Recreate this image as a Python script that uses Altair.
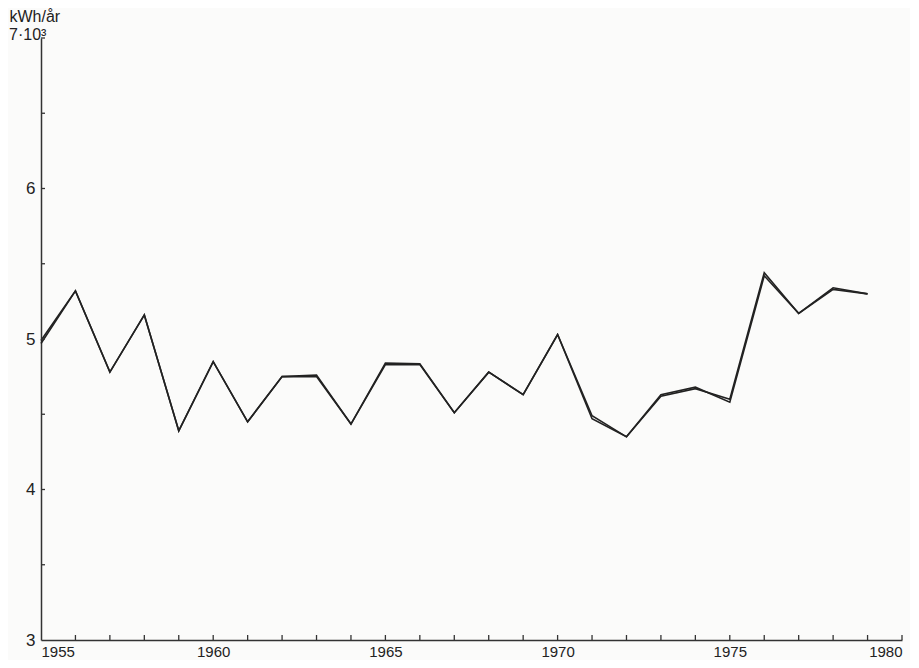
import altair as alt
import pandas as pd

years = list(range(1955, 1980))
series_a = [4.99, 5.32, 4.78, 5.16, 4.39, 4.85, 4.45, 4.75, 4.76, 4.435, 4.83, 4.83, 4.51, 4.78, 4.63,
            5.03, 4.49, 4.35, 4.62, 4.67, 4.60, 5.44, 5.17, 5.34, 5.30]
series_b = [4.97, 5.32, 4.78, 5.16, 4.39, 4.85, 4.45, 4.75, 4.75, 4.435, 4.84, 4.835, 4.51, 4.78, 4.63,
            5.03, 4.47, 4.35, 4.63, 4.68, 4.58, 5.42, 5.17, 5.33, 5.30]
x_tick_years = list(range(1956, 1981))
y_minor = [3.5, 4.0, 4.5, 5.0, 5.5, 6.0, 6.5, 7.0]
x_label_years = [1955, 1960, 1965, 1970, 1975, 1980]
y_label_values = [3, 4, 5, 6]
top_label = ["7·10³"]

df = pd.DataFrame({
    "year": years * 2,
    "value": series_a + series_b,
    "series": ["A"] * len(years) + ["B"] * len(years),
})
xt = pd.DataFrame({"year": x_tick_years})
yt = pd.DataFrame({"v": y_minor})
tl = pd.DataFrame({"v": [7.0], "label": top_label})

FONT = "Liberation Sans"
xscale = alt.Scale(domain=[1955, 1980], nice=False, zero=False)
yscale = alt.Scale(domain=[3, 7], nice=False, zero=False)

lines = alt.Chart(df).mark_line(color="#222222", strokeWidth=1.6).encode(
    x=alt.X("year:Q", scale=xscale,
            axis=alt.Axis(values=x_label_years, format="d", title=None, ticks=False,
                          grid=False, domainColor="#333333", domainWidth=1.5,
                          labelFont=FONT, labelFontSize=15, labelColor="#222222",
                          labelPadding=4)),
    y=alt.Y("value:Q", scale=yscale,
            axis=alt.Axis(values=y_label_values, title="kWh/år", ticks=False, grid=False,
                          format="d",
                          domainColor="#333333", domainWidth=1.5,
                          labelFont=FONT, labelFontSize=17, labelColor="#222222",
                          labelPadding=6,
                          titleAngle=0, titleAlign="left", titleBaseline="bottom",
                          titleX=-32, titleY=-14, titleFont=FONT, titleFontSize=16,
                          titleFontWeight="normal", titleColor="#222222")),
    detail="series:N",
)

toptext = alt.Chart(tl).mark_text(font=FONT, fontSize=16, color="#222222",
                                  align="left", baseline="middle", dy=-3).encode(
    y=alt.Y("v:Q", scale=yscale),
    x=alt.value(-32),
    text="label:N",
)

xticks = alt.Chart(xt).mark_rule(color="#333333", strokeWidth=1.3).encode(
    x=alt.X("year:Q", scale=xscale),
    y=alt.value(602),
    y2=alt.value(597),
)

yticks = alt.Chart(yt).mark_rule(color="#333333", strokeWidth=1.3).encode(
    y=alt.Y("v:Q", scale=yscale),
    x=alt.value(0),
    x2=alt.value(4),
)

chart = alt.layer(lines, xticks, yticks, toptext).properties(
    width=861, height=602,
    autosize=alt.AutoSizeParams(type="none"),
    padding={"left": 33, "top": 30, "right": 8, "bottom": 20},
    background="#fbfbfa",
).configure_view(stroke=None)

chart.save("out.html", embed_options={"renderer": "svg", "actions": False})
